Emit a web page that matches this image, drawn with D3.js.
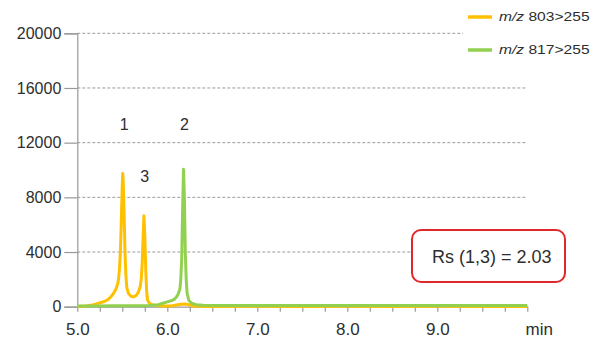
<!DOCTYPE html>
<html>
<head>
<meta charset="utf-8">
<script src="https://cdn.jsdelivr.net/npm/d3@7"></script>
<style>
html,body{margin:0;padding:0;background:#fff;}
svg{display:block;font-family:"Liberation Sans",Arial,sans-serif;}
</style>
</head>
<body>
<svg id="chart" width="592" height="340"></svg>
<script>
// ---- data ----
const seriesNames = ["m/z 803>255", "m/z 817>255"];
const seriesColors = ["#FFC000", "#92D050"];

const timeA = [5.00,5.05,5.10,5.15,5.20,5.25,5.30,5.34,5.37,5.40,5.43,5.45,5.46,5.47,5.48,5.49,5.50,5.505,5.51,5.52,5.53,5.54,5.55,5.57,5.60,5.63,5.66,5.68,5.70,5.71,5.72,5.73,5.74,5.75,5.76,5.77,5.78,5.80,5.83,5.88,5.95,6.05,6.10,6.15,6.20,6.24,6.28,6.35,6.50,7.00,7.50,8.00,8.50,9.00,9.50,10.00];
const intensityA = [0,40,60,100,180,280,380,520,700,950,1300,1700,2100,2900,4200,6500,9000,9750,9200,6800,4000,2300,1400,950,750,720,850,1100,1500,2000,3000,4800,6650,5200,2800,1200,500,250,150,80,50,60,120,180,200,150,60,30,20,30,20,30,20,25,20,20];

const timeB = [5.00,5.20,5.40,5.60,5.80,5.90,5.95,6.00,6.05,6.08,6.10,6.12,6.14,6.15,6.16,6.17,6.18,6.19,6.20,6.21,6.22,6.24,6.27,6.32,6.40,6.60,7.00,7.50,8.00,8.50,9.00,9.50,10.00];
const intensityB = [60,60,70,70,90,150,250,350,450,550,700,900,1300,2000,3500,7000,10050,8000,4000,2000,1000,450,250,150,110,90,80,90,80,90,80,90,90];

const yTicks = [0,4000,8000,12000,16000,20000];
const xLabelTicks = [5,6,7,8,9];
const xUnit = "min";
const peakLabels = [{name:"1", t:5.52, v:12900},{name:"2", t:6.19, v:12900},{name:"3", t:5.75, v:9100}];
const resolutionText = "Rs (1,3) = 2.03";

// ---- layout ----
const svg = d3.select("#chart");
const x = d3.scaleLinear().domain([5,10]).range([77.3,527.3]);
const y = d3.scaleLinear().domain([0,20000]).range([306.7,33.3]);
const textColor = "#2e2e2e";
const axisColor = "#999";

// gridlines
svg.append("g").selectAll("line").data(yTicks.filter(d=>d>0)).join("line")
  .attr("x1", x(5)).attr("x2", x(10))
  .attr("y1", d=>y(d)).attr("y2", d=>y(d))
  .attr("stroke","#9a9a9a").attr("stroke-width",1).attr("stroke-dasharray","3,2");

// y axis
const yAxis = d3.axisLeft(y).tickValues(yTicks).tickSize(13).tickPadding(3).tickFormat(d3.format("d"));
const gy = svg.append("g").attr("transform",`translate(${x(5)},0)`).call(yAxis);
gy.select(".domain").attr("stroke",axisColor).attr("stroke-width",1.2);
gy.selectAll(".tick line").attr("stroke",axisColor).attr("stroke-width",1.2);
gy.selectAll(".tick text").attr("fill",textColor).attr("font-size",16)
  .attr("font-family","'Liberation Sans',Arial,sans-serif");

// x axis
const xAxis = d3.axisBottom(x).tickValues(d3.range(5,10.001,0.25)).tickSize(5).tickSizeOuter(0)
  .tickFormat(d => xLabelTicks.includes(d) ? d3.format(".1f")(d) : "").tickPadding(11);
const gx = svg.append("g").attr("transform",`translate(0,${y(0)})`).call(xAxis);
gx.select(".domain").attr("stroke",axisColor).attr("stroke-width",1.2);
gx.selectAll(".tick line").attr("stroke",axisColor).attr("stroke-width",1.2);
gx.selectAll(".tick text").attr("fill",textColor).attr("font-size",17)
  .attr("font-family","'Liberation Sans',Arial,sans-serif");

svg.append("text").attr("x", x(10)+12).attr("y", 335).attr("text-anchor","middle")
  .attr("font-size",17).attr("fill",textColor).text(xUnit);

// traces
const line = d3.line().x(d=>x(d[0])).y(d=>y(d[1]));
const dataA = timeA.map((t,i)=>[t,intensityA[i]]);
const dataB = timeB.map((t,i)=>[t,intensityB[i]]);
[dataA, dataB].forEach((dat,i)=>{
  svg.append("path").datum(dat).attr("d",line).attr("fill","none")
    .attr("stroke",seriesColors[i]).attr("stroke-width",3).attr("stroke-linejoin","round");
});

// peak labels
svg.append("g").selectAll("text").data(peakLabels).join("text")
  .attr("x", d=>x(d.t)).attr("y", d=>y(d.v)).attr("text-anchor","middle")
  .attr("font-size",16).attr("fill",textColor).text(d=>d.name);

// legend
const legend = svg.append("g");
legend.append("rect").attr("x",463).attr("y",0).attr("width",129).attr("height",70).attr("fill","#fff");
const legY = [17, 50];
seriesNames.forEach((n,i)=>{
  legend.append("line").attr("x1",468).attr("x2",492).attr("y1",legY[i]).attr("y2",legY[i])
    .attr("stroke",seriesColors[i]).attr("stroke-width",3.5);
  const t = legend.append("text").attr("transform",`translate(499,${legY[i]+4}) scale(1.3,1)`)
    .attr("font-size",12).attr("fill",textColor);
  t.append("tspan").attr("font-style","italic").text(n.split(" ")[0]);
  t.append("tspan").text(" " + n.split(" ")[1]);
});

// resolution box
svg.append("rect").attr("x",412).attr("y",230).attr("width",153).attr("height",52).attr("rx",9)
  .attr("fill","#fff").attr("stroke","#e0282a").attr("stroke-width",2);
svg.append("text").attr("x",432).attr("y",263).attr("font-size",18).attr("fill",textColor).text(resolutionText);
</script>
</body>
</html>
